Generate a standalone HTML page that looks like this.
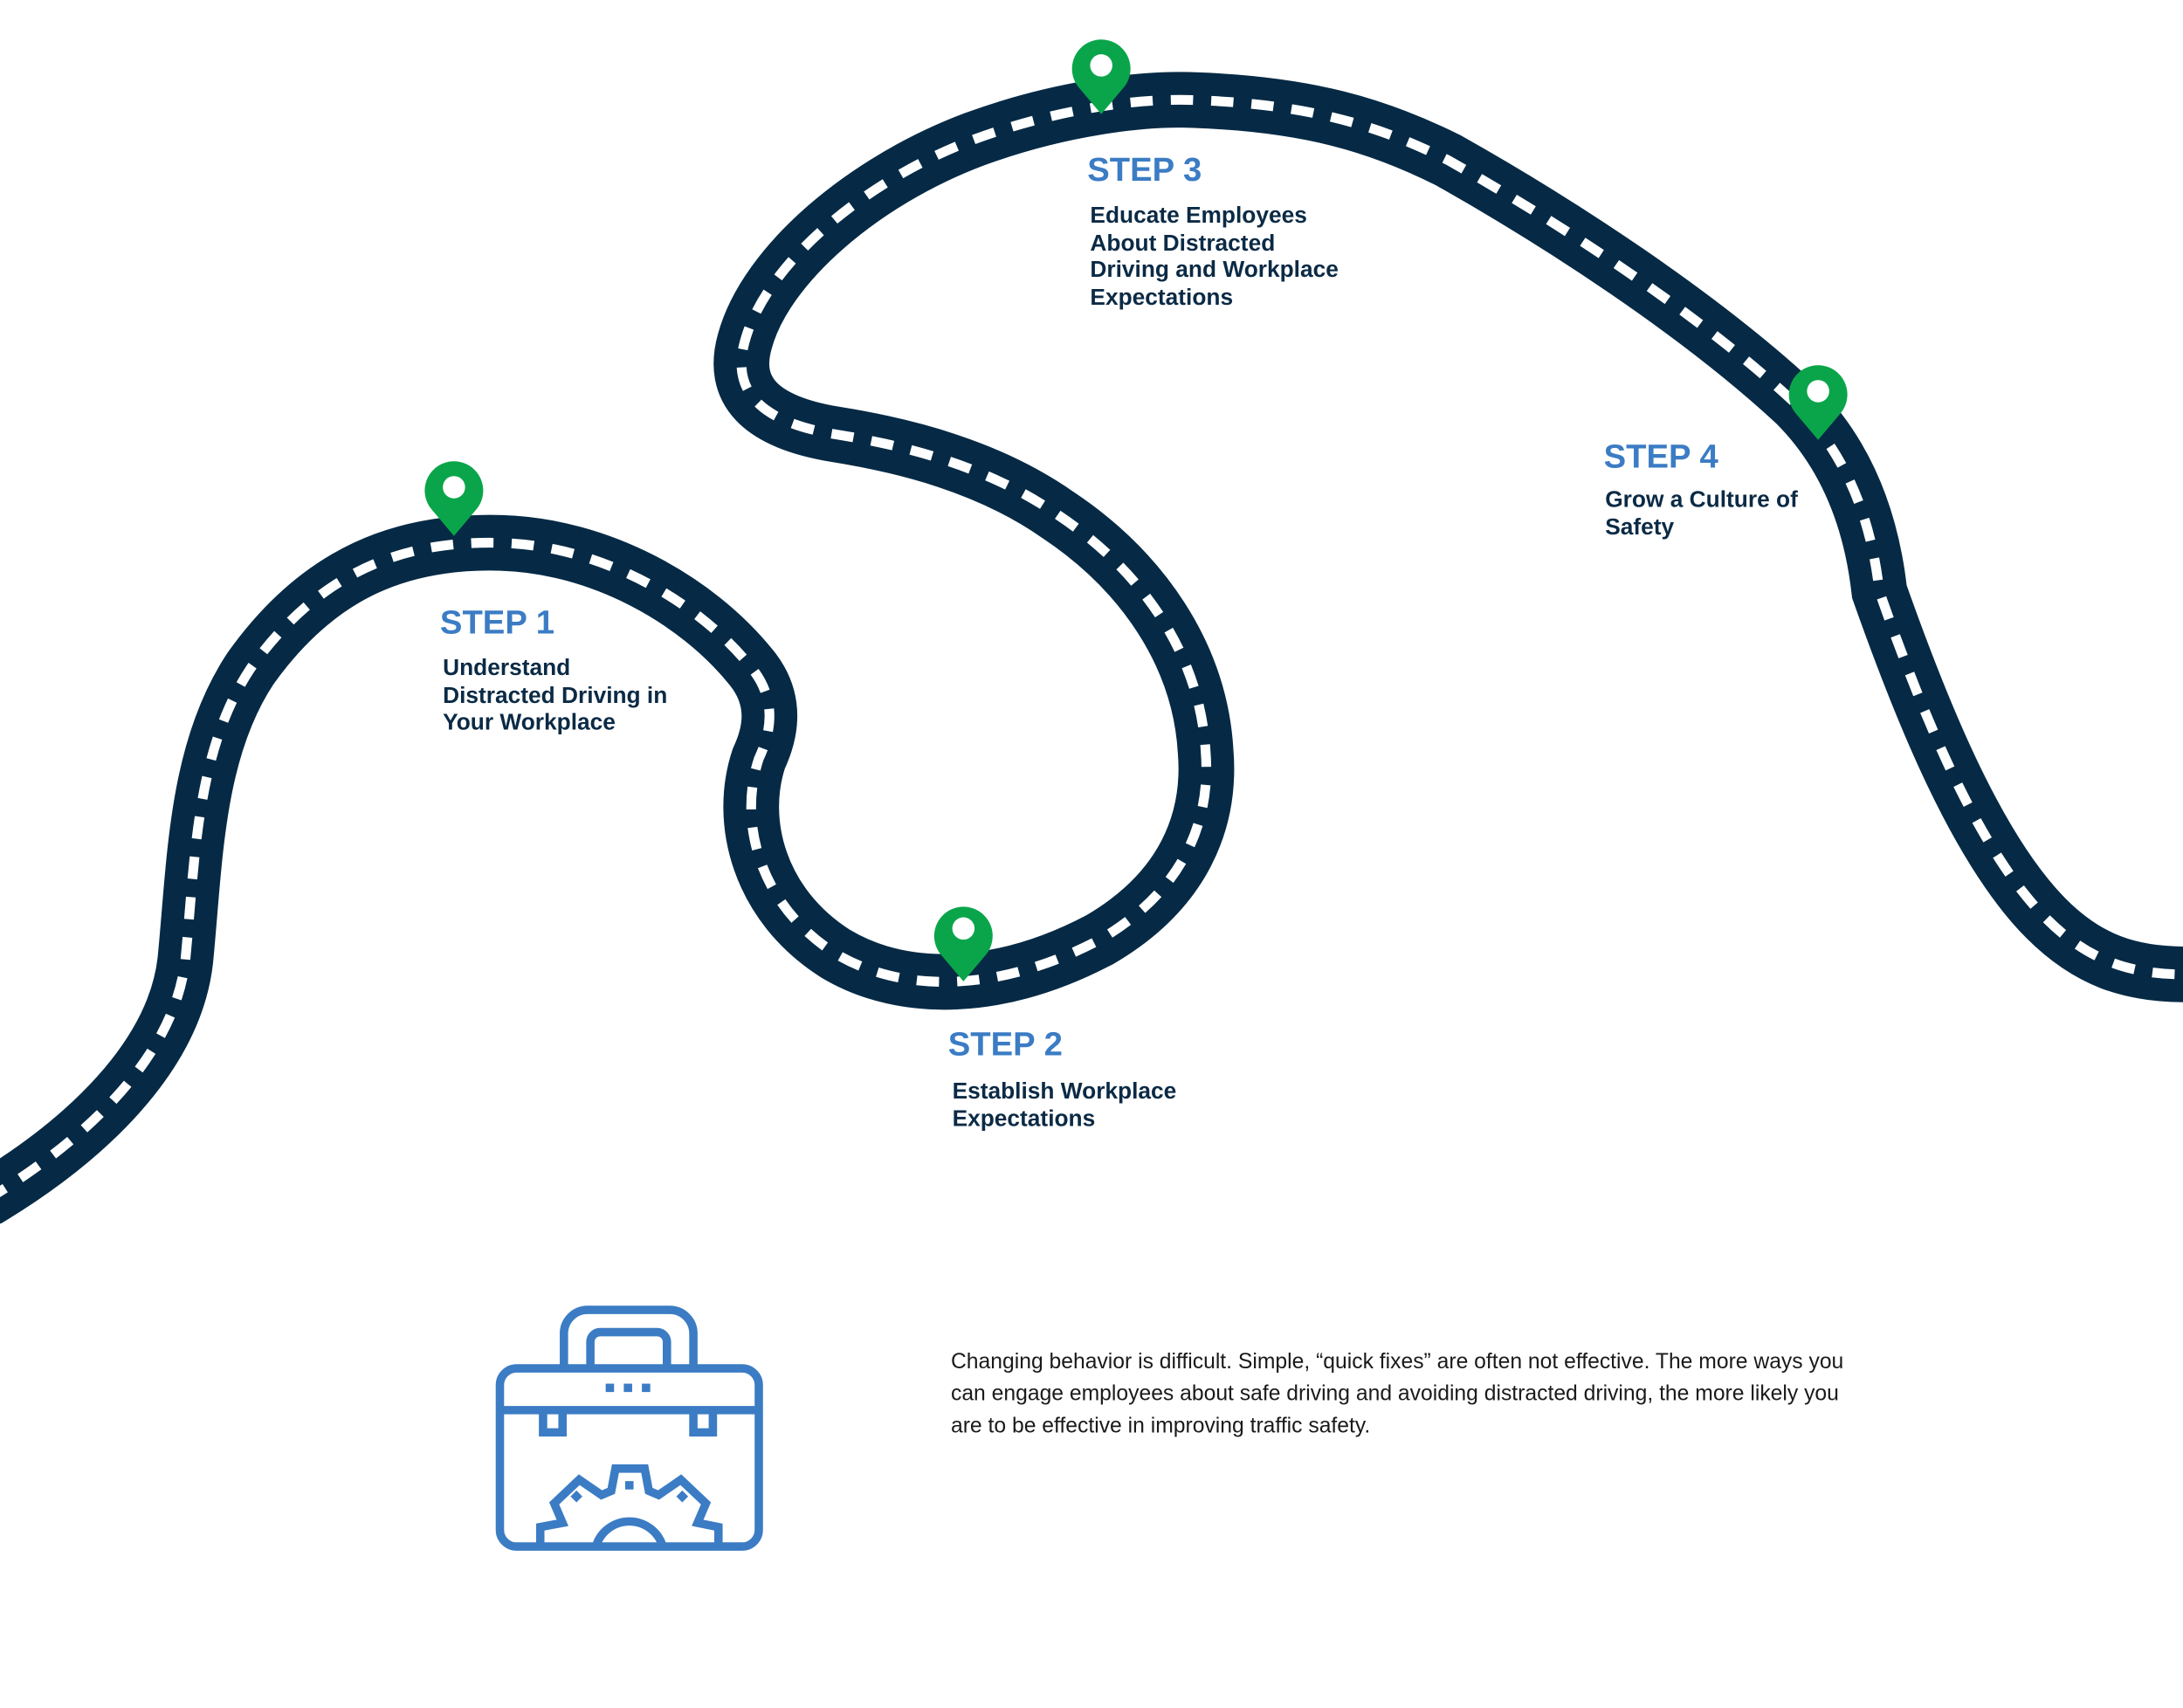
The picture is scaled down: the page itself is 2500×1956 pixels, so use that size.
<!DOCTYPE html>
<html><head><meta charset="utf-8"><style>
html,body{margin:0;padding:0;background:#fff;}
svg{display:block;}
</style></head><body>
<svg width="2500" height="1956" viewBox="0 0 1568 1227" xmlns="http://www.w3.org/2000/svg">
<defs>
<path id="road" d="M -10,862 C 60,820 125,760 133,690 C 140,620 140,540 180,480 C 230,410 290,388 360,390 C 430,392 500,430 540,480 C 560,505 552,530 545,545 C 530,590 545,650 600,685 C 650,715 720,712 790,675 C 850,640 870,590 866,540 C 862,470 820,410 760,370 C 710,335 650,320 600,312 C 545,303 525,280 535,245 C 550,190 620,130 700,100 C 760,78 820,70 860,72 C 940,75 990,90 1040,115 C 1120,160 1220,225 1290,290 C 1330,330 1345,380 1350,425 C 1380,510 1420,610 1470,660 C 1500,690 1530,700 1570,700"/>
</defs>
<rect width="1568" height="1227" fill="#fff"/>
<g fill="none">
<use href="#road" stroke="#062a45" stroke-width="40"/>
<use href="#road" stroke="#fff" stroke-width="7" stroke-dasharray="16 13"/>
</g>
<g fill="#0aa54a">
<path d="M326,385 L310,366 A21,21 0 1 1 342,366 Z"/>
<path d="M692,705 L676,686 A21,21 0 1 1 708,686 Z"/>
<path d="M791,82 L775,63 A21,21 0 1 1 807,63 Z"/>
<path d="M1306,316 L1290,297 A21,21 0 1 1 1322,297 Z"/>
</g>
<g fill="#fff">
<circle cx="326" cy="350" r="8"/><circle cx="692" cy="667" r="8"/><circle cx="791" cy="47" r="8"/><circle cx="1306" cy="281" r="8"/>
</g>
<g font-family="Liberation Sans, sans-serif" font-weight="bold">
<g fill="#3b7cc4" font-size="24">
<text x="316" y="455">STEP 1</text>
<text x="681" y="758">STEP 2</text>
<text x="781" y="130">STEP 3</text>
<text x="1152" y="336">STEP 4</text>
</g>
<g fill="#0b2a45" font-size="16.5">
<text x="318" y="485">Understand</text><text x="318" y="505">Distracted Driving in</text><text x="318" y="524">Your Workplace</text>
<text x="684" y="789">Establish Workplace</text><text x="684" y="809">Expectations</text>
<text x="783" y="160">Educate Employees</text><text x="783" y="180">About Distracted</text><text x="783" y="199">Driving and Workplace</text><text x="783" y="219">Expectations</text>
<text x="1153" y="364">Grow a Culture of</text><text x="1153" y="384">Safety</text>
</g>
</g>
<g font-family="Liberation Sans, sans-serif" font-size="15.5" fill="#1a1a1a">
<text x="683" y="983">Changing behavior is difficult. Simple, “quick fixes” are often not effective. The more ways you</text>
<text x="683" y="1006">can engage employees about safe driving and avoiding distracted driving, the more likely you</text>
<text x="683" y="1029">are to be effective in improving traffic safety.</text>
</g>
<g stroke="#3b7cc4" stroke-width="6" fill="none">
<rect x="359" y="983" width="186" height="128" rx="12"/>
<path d="M405,983 V958 A17,17 0 0 1 422,941 H481 A17,17 0 0 1 498,958 V983"/>
<path d="M424,983 V964 A7,7 0 0 1 431,957 H472 A7,7 0 0 1 479,964 V983"/>
<line x1="359" y1="1013" x2="545" y2="1013"/>
<path d="M390,1013 V1029 H404 V1013 M498,1013 V1029 H512 V1013"/>
<path d="M388,1111 V1097 L404,1094 L398,1080 L416,1063 L432,1074 L439,1071 L442,1055 L463,1055 L466,1071 L473,1074 L489,1063 L507,1080 L501,1094 L516,1097 V1111"/>
<path d="M428,1111 A25,25 0 0 1 476,1111"/>
</g>
<g fill="#3b7cc4">
<rect x="435" y="994" width="6" height="6"/><rect x="448" y="994" width="6" height="6"/><rect x="461" y="994" width="6" height="6"/>
<rect x="449" y="1064" width="6" height="6"/>
<rect x="411" y="1072" width="6" height="6" transform="rotate(45 414 1075)"/>
<rect x="487" y="1072" width="6" height="6" transform="rotate(45 490 1075)"/>
</g>
</svg>
</body></html>
